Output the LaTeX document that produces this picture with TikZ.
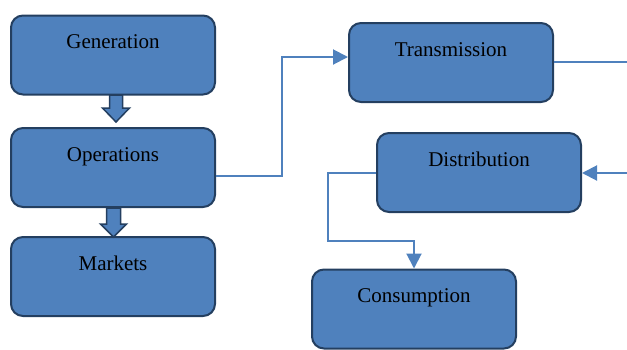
\documentclass[tikz,border=0pt]{standalone}
\usepackage{fontspec}
\setmainfont{Liberation Serif}
\usetikzlibrary{arrows.meta,calc}
\definecolor{boxfill}{HTML}{4F81BD}
\definecolor{boxline}{HTML}{243F60}
\definecolor{wire}{HTML}{4F81BD}
\begin{document}
\begin{tikzpicture}[x=1pt,y=-1pt,
  blk/.style={draw=boxline,fill=boxfill,line width=2pt,rounded corners=12pt,
    minimum width=204pt,minimum height=79pt,inner sep=0pt},
  txt/.style={anchor=base,font=\fontsize{21}{25}\selectfont,text=black,inner sep=0pt},
  wirestyle/.style={draw=wire,line width=2pt},
  tip/.style={-{Triangle[length=15pt,width=15pt]}},
  blockarrow/.style={draw=boxline,fill=boxfill,line width=1.5pt,line join=miter}]
\useasboundingbox (0,0) rectangle (627,349);

% boxes
\node[blk] (gen)   at (113,55)    {};
\node[blk] (ops)   at (113,167.5) {};
\node[blk] (mkt)   at (113,276.5) {};
\node[blk] (trans) at (451,62.5)  {};
\node[blk] (dist)  at (479,172.5) {};
\node[blk] (cons)  at (414,309)   {};

% texts
\node[txt] (gent)   at ($(gen.north)+(0,34)$)   {Generation};
\node[txt] (opst)   at ($(ops.north)+(0,34)$)   {Operations};
\node[txt] (mktt)   at ($(mkt.north)+(0,34)$)   {Markets};
\node[txt] (transt) at ($(trans.north)+(0,34)$) {Transmission};
\node[txt] (distt)  at ($(dist.north)+(0,34)$)  {Distribution};
\node[txt] (const)  at ($(cons.north)+(0,34)$)  {Consumption};

% block arrows
\coordinate (a1) at (116,95);
\draw[blockarrow] ($(a1)+(-6.5,0)$) -- ++(0,13) -- ++(-7,0) -- ($(a1)+(0,27)$)
  -- ($(a1)+(13.5,13)$) -- ++(-7,0) -- ($(a1)+(6.5,0)$) -- cycle;
\coordinate (a2) at (113.5,208);
\draw[blockarrow] ($(a2)+(-7,0)$) -- ++(0,16) -- ++(-6,0) -- ($(a2)+(0,29)$)
  -- ($(a2)+(13,16)$) -- ++(-6,0) -- ($(a2)+(7,0)$) -- cycle;

% connectors
\coordinate (o1) at (282,176);
\coordinate (o2) at (282,57);
\draw[wirestyle,tip] (ops.east |- o1) -- (o1) -- (o2) -- (trans.west |- o2);

\coordinate (tr) at (627,62);
\draw[wirestyle] (trans.east |- tr) -- (tr);

\coordinate (dr) at (627,173);
\draw[wirestyle,tip] (dr) -- (dist.east |- dr);

\coordinate (d1) at (328,173);
\coordinate (d2) at (328,241);
\coordinate (d3) at (414,241);
\draw[wirestyle,tip] (dist.west |- d1) -- (d1) -- (d2) -- (d3) -- (cons.north);
\end{tikzpicture}
\end{document}
